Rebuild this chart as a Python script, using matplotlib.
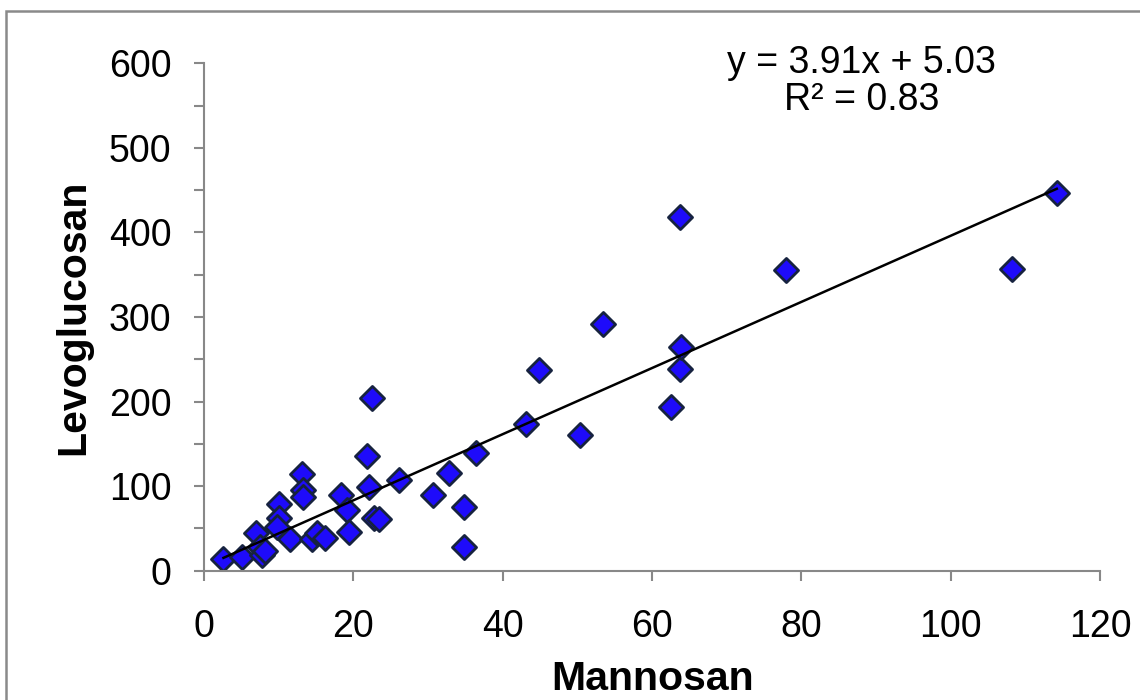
import numpy as np
import matplotlib
matplotlib.use("Agg")
import matplotlib.pyplot as plt
import matplotlib.patches as patches
from matplotlib.ticker import MultipleLocator

# data
mannosan = [2.6, 5.1, 7.0, 7.5, 7.7, 8.2, 10.0, 10.0, 9.8, 11.5,
            13.1, 13.3, 13.3, 14.5, 15.1, 16.2, 18.3, 19.2, 19.4, 21.8,
            22.1, 22.5, 22.7, 23.4, 26.1, 30.6, 32.8, 34.8, 34.8, 36.4,
            43.1, 44.9, 50.3, 53.4, 62.6, 63.8, 63.9, 63.8, 78.0, 108.2,
            114.2]
levoglucosan = [14, 16, 45, 28, 19, 23, 79, 62, 52, 37,
                114, 96, 87, 38, 44, 39, 90, 72, 46, 136,
                99, 204, 62, 61, 107, 89, 115, 75, 28, 139,
                173, 237, 160, 292, 194, 239, 265, 418, 356, 357,
                447]
slope = 3.91
intercept = 5.03
r2 = 0.83

plt.rcParams['font.family'] = ['Liberation Sans', 'DejaVu Sans']

fig = plt.figure(figsize=(11.4, 7), dpi=100)
ax = fig.add_axes([0.179, 0.1847, 0.786, 0.725])

ax.scatter(mannosan, levoglucosan, marker='D', s=12.3 ** 2, c='#1E0BFA',
           edgecolors='#16223f', linewidths=2.0, zorder=2)

xfit = np.array([min(mannosan), max(mannosan)])
ax.plot(xfit, slope * xfit + intercept, color='black', linewidth=1.8, zorder=3)

ax.set_xlim(0, 120)
ax.set_ylim(0, 600)
ax.xaxis.set_major_locator(MultipleLocator(20))
ax.yaxis.set_major_locator(MultipleLocator(100))
ax.yaxis.set_minor_locator(MultipleLocator(50))

for side in ['top', 'right']:
    ax.spines[side].set_visible(False)
for side in ['left', 'bottom']:
    ax.spines[side].set_color('#888888')
    ax.spines[side].set_linewidth(1.5)

ax.tick_params(axis='both', which='both', direction='out', color='#888888',
               width=1.5, length=7.5, labelsize=27)
ax.tick_params(axis='y', which='major', pad=16)
ax.tick_params(axis='x', which='major', pad=20)

ax.set_xlabel("Mannosan", fontsize=29.5, fontweight='bold', labelpad=11)
ax.set_ylabel("Levoglucosan", fontsize=29.5, fontweight='bold', labelpad=12)

fig.text(861.7 / 1140, 1 - 73 / 700, "y = %.2fx + %.2f" % (slope, intercept),
         fontsize=27, ha='center', va='baseline')
fig.text(861.7 / 1140, 1 - 110 / 700, "R² = %.2f" % r2,
         fontsize=27, ha='center', va='baseline')

# grey frame around the chart area
border = patches.Rectangle((6 / 1140, -0.1), 1.2, 1.1 - 11 / 700,
                           transform=fig.transFigure, fill=False,
                           edgecolor='#8a8a8a', linewidth=1.8, clip_on=False)
fig.patches.append(border)

fig.savefig("out.png", dpi=100)
